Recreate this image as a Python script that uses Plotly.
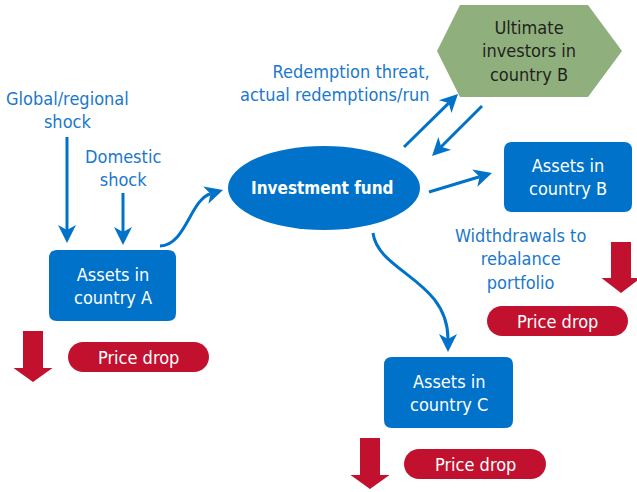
import math
import plotly.graph_objects as go

# ---- content ----
box_labels = ["Assets in<br>country A", "Assets in<br>country B", "Assets in<br>country C"]
fund_label = "Investment fund"
investor_label = "Ultimate<br>investors in<br>country B"
price_label = "Price drop"
shock_labels = ["Global/regional<br>shock", "Domestic<br>shock"]
redemption_label = "Redemption threat,<br>actual redemptions/run"
withdraw_label = "Widthdrawals to<br>rebalance<br>portfolio"

# ---- layout geometry (pixel-like data coordinates) ----
W, H = 637, 492
BLUE = "#0072c9"
TXT_BLUE = "#1a78cc"
RED = "#c1112f"
GREEN = "#8fb07c"
FONT = "Liberation Sans Narrow, DejaVu Sans Condensed, Arial Narrow, sans-serif"

boxes = [(49, 250, 176, 321), (504, 142, 632, 212), (384, 357, 513, 428)]
pills = [(68, 342, 209, 372), (487, 306, 628, 336), (404, 449, 546, 479)]
red_arrows = [(33, 331, 368, 382), (621, 242, 278, 293), (370, 438, 475, 489)]
fund_ellipse = (228, 146, 420, 230)
hexagon = [(437, 51), (460, 5), (588, 5), (622, 51), (588, 97), (460, 97)]

fig = go.Figure()
fig.add_trace(go.Scatter(x=[0, W], y=[0, H], mode="markers",
                         marker=dict(opacity=0), hoverinfo="skip", showlegend=False))

shapes = []
annotations = []


def rrect(x0, y0, x1, y1, r):
    return (f"M{x0+r},{y0} L{x1-r},{y0} Q{x1},{y0} {x1},{y0+r} "
            f"L{x1},{y1-r} Q{x1},{y1} {x1-r},{y1} L{x0+r},{y1} "
            f"Q{x0},{y1} {x0},{y1-r} L{x0},{y0+r} Q{x0},{y0} {x0+r},{y0} Z")


def pill(x0, y0, x1, y1):
    r = (y1 - y0) / 2
    k = 0.5523 * r
    return (f"M{x0+r},{y0} L{x1-r},{y0} C{x1-r+k},{y0} {x1},{y0+r-k} {x1},{y0+r} "
            f"C{x1},{y0+r+k} {x1-r+k},{y1} {x1-r},{y1} L{x0+r},{y1} "
            f"C{x0+r-k},{y1} {x0},{y0+r+k} {x0},{y0+r} C{x0},{y0+r-k} {x0+r-k},{y0} {x0+r},{y0} Z")


def head(tip, frm, L=18, Wd=9, notch=5):
    tx, ty = tip
    dx, dy = tx - frm[0], ty - frm[1]
    n = math.hypot(dx, dy)
    dx, dy = dx / n, dy / n
    nx, ny = -dy, dx
    bx, by = tx - L * dx, ty - L * dy
    p1 = (bx + Wd * nx, by + Wd * ny)
    p2 = (tx - (L - notch) * dx, ty - (L - notch) * dy)
    p3 = (bx - Wd * nx, by - Wd * ny)
    shapes.append(dict(type="path", xref="x", yref="y",
                       path=f"M{tx},{ty} L{p1[0]},{p1[1]} L{p2[0]},{p2[1]} L{p3[0]},{p3[1]} Z",
                       fillcolor=BLUE, line=dict(width=0)))
    return p2


def blue_line(path):
    shapes.append(dict(type="path", xref="x", yref="y", path=path,
                       line=dict(color=BLUE, width=3)))


def straight_arrow(a, b):
    e = head(b, a)
    blue_line(f"M{a[0]},{a[1]} L{e[0]},{e[1]}")


def curve_arrow(a, c1, c2, b):
    e = head(b, c2)
    blue_line(f"M{a[0]},{a[1]} C{c1[0]},{c1[1]} {c2[0]},{c2[1]} {e[0]},{e[1]}")


def label(x, y, text, color="white", size=18, bold=False, xanchor="center", align="center"):
    annotations.append(dict(x=x, y=y, xref="x", yref="y", text=f"<b>{text}</b>" if bold else text,
                            showarrow=False, xanchor=xanchor, yanchor="middle", align=align,
                            font=dict(family=FONT, size=size, color=color)))


# hexagon
hp = "M" + " L".join(f"{x},{y}" for x, y in hexagon) + " Z"
shapes.append(dict(type="path", xref="x", yref="y", path=hp, fillcolor=GREEN, line=dict(width=0)))
label(529, 51, investor_label, color="#231f20")

# ellipse
x0, y0, x1, y1 = fund_ellipse
shapes.append(dict(type="circle", xref="x", yref="y", x0=x0, y0=y0, x1=x1, y1=y1,
                   fillcolor=BLUE, line=dict(width=0)))
label((x0 + x1) / 2 - 2, (y0 + y1) / 2, fund_label, size=17, bold=True)

# boxes
for (bx0, by0, bx1, by1), t in zip(boxes, box_labels):
    shapes.append(dict(type="path", xref="x", yref="y", path=rrect(bx0, by0, bx1, by1, 8),
                       fillcolor=BLUE, line=dict(width=0)))
    label((bx0 + bx1) / 2, (by0 + by1) / 2, t)

# pills
for (px0, py0, px1, py1) in pills:
    shapes.append(dict(type="path", xref="x", yref="y", path=pill(px0, py0, px1, py1),
                       fillcolor=RED, line=dict(width=0)))
    label((px0 + px1) / 2, (py0 + py1) / 2 + 0.5, price_label)

# red block arrows
for cx, top, hy, tip in red_arrows:
    sw, hw = 10, 19.5
    p = (f"M{cx-sw},{top} L{cx+sw},{top} L{cx+sw},{hy} L{cx+hw},{hy} L{cx},{tip} "
         f"L{cx-hw},{hy} L{cx-sw},{hy} Z")
    shapes.append(dict(type="path", xref="x", yref="y", path=p, fillcolor=RED, line=dict(width=0)))

# blue text labels
label(67, 110, shock_labels[0], color=TXT_BLUE)
label(123, 168, shock_labels[1], color=TXT_BLUE)
label(432, 83, redemption_label, color=TXT_BLUE, xanchor="right", align="right")
label(520, 259, withdraw_label, color=TXT_BLUE)

# blue arrows
straight_arrow((67, 137), (67, 243))
straight_arrow((123, 193), (123, 245))
curve_arrow((160, 246), (186, 245), (190, 200), (223, 190))
straight_arrow((404, 147), (458, 94))
straight_arrow((482, 106), (432, 156))
straight_arrow((429, 192), (492, 173))
curve_arrow((373, 233), (378, 272), (448, 280), (448, 352))

fig.update_layout(
    width=W, height=H, margin=dict(l=0, r=0, t=0, b=0),
    paper_bgcolor="white", plot_bgcolor="white",
    xaxis=dict(range=[0, W], visible=False, fixedrange=True),
    yaxis=dict(range=[H, 0], visible=False, fixedrange=True),
    shapes=shapes, annotations=annotations, showlegend=False,
)
fig.write_html("out.html", config={"displayModeBar": False},
               post_script="document.body.style.margin='0';document.body.style.overflow='hidden';")
